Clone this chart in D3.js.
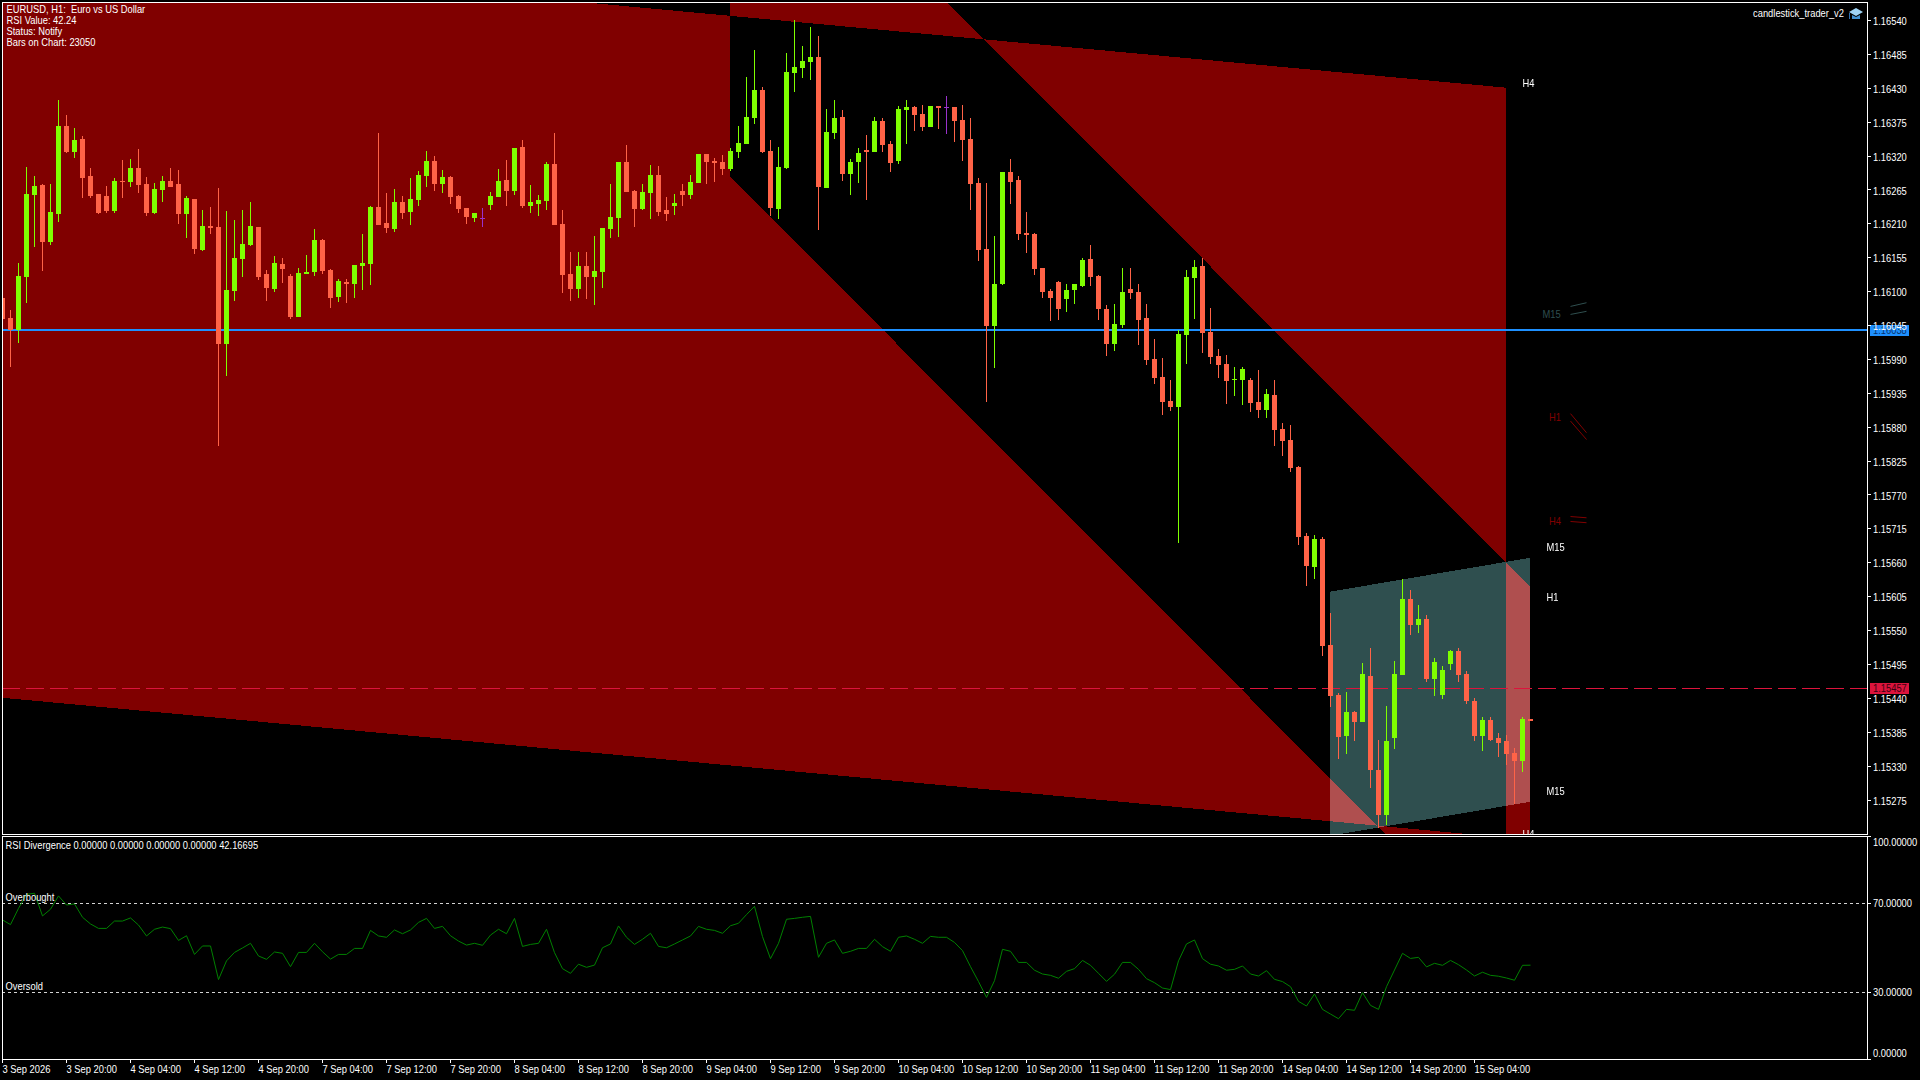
<!DOCTYPE html>
<html>
<head>
<meta charset="utf-8">
<title>EURUSD H1</title>
<script src="https://cdnjs.cloudflare.com/ajax/libs/d3/7.8.5/d3.min.js"></script>
<style>
  html, body { margin: 0; padding: 0; background: #000; overflow: hidden; }
  svg { display: block; }
  text { font-family: "Liberation Sans", sans-serif; font-size: 11px; fill: #fff; }
  .axis path, .axis line { stroke: #fff; shape-rendering: crispEdges; }
  .axis text { fill: #fff; font-size: 11px; font-family: "Liberation Sans", sans-serif; }
</style>
</head>
<body>
<svg id="chart" width="1920" height="1080"></svg>
<script>
// candles, 1 hour bars, left to right
const high = [
  1.16097,1.16070,1.16147,1.16302,1.16288,1.16275,1.16275,1.16411,1.16387,1.16366,
  1.16353,1.16301,1.16259,1.16272,1.16285,1.16314,1.16315,1.16332,1.16286,1.16276,
  1.16288,1.16301,1.16298,1.16255,1.16250,1.16233,1.16237,1.16268,1.16231,1.16216,
  1.16233,1.16246,1.16205,1.16135,1.16158,1.16155,1.16129,1.16139,1.16160,1.16202,
  1.16186,1.16137,1.16121,1.16121,1.16143,1.16194,1.16239,1.16357,1.16260,1.16267,
  1.16255,1.16285,1.16296,1.16328,1.16320,1.16298,1.16288,1.16257,1.16236,1.16228,
  1.16236,1.16262,1.16299,1.16314,1.16333,1.16346,1.16273,1.16257,1.16310,1.16357,
  1.16233,1.16164,1.16164,1.16164,1.16190,1.16203,1.16275,1.16310,1.16338,1.16265,
  1.16275,1.16306,1.16304,1.16254,1.16259,1.16275,1.16289,1.16323,1.16323,1.16317,
  1.16322,1.16333,1.16369,1.16448,1.16492,1.16432,1.16346,1.16335,1.16487,1.16541,
  1.16499,1.16529,1.16515,1.16396,1.16411,1.16395,1.16315,1.16333,1.16354,1.16383,
  1.16382,1.16345,1.16401,1.16411,1.16401,1.16403,1.16401,1.16401,1.16418,1.16400,
  1.16403,1.16382,1.16285,1.16276,1.16190,1.16294,1.16315,1.16288,1.16229,1.16195,
  1.16139,1.16104,1.16117,1.16113,1.16113,1.16155,1.16176,1.16127,1.16079,1.16080,
  1.16139,1.16139,1.16113,1.16080,1.16023,1.15993,1.15957,1.16038,1.16135,1.16152,
  1.16155,1.16074,1.16007,1.15997,1.15978,1.15978,1.15960,1.15973,1.15942,1.15957,
  1.15887,1.15884,1.15817,1.15709,1.15705,1.15702,1.15579,1.15449,1.15451,1.15420,
  1.15498,1.15522,1.15373,1.15428,1.15501,1.15634,1.15615,1.15592,1.15576,1.15506,
  1.15493,1.15519,1.15522,1.15485,1.15441,1.15409,1.15410,1.15383,1.15381,1.15360,
  1.15409,1.15407
];
const low = [
  1.16049,1.15978,1.16017,1.16082,1.16173,1.16133,1.16175,1.16213,1.16325,1.16317,
  1.16252,1.16252,1.16226,1.16228,1.16228,1.16252,1.16270,1.16260,1.16223,1.16226,
  1.16246,1.16270,1.16210,1.16187,1.16161,1.16166,1.16194,1.15850,1.15963,1.16085,
  1.16124,1.16174,1.16119,1.16085,1.16100,1.16114,1.16056,1.16059,1.16129,1.16126,
  1.16129,1.16074,1.16083,1.16082,1.16090,1.16103,1.16111,1.16208,1.16195,1.16197,
  1.16218,1.16208,1.16239,1.16270,1.16263,1.16260,1.16242,1.16228,1.16210,1.16213,
  1.16205,1.16233,1.16254,1.16239,1.16257,1.16236,1.16228,1.16223,1.16233,1.16208,
  1.16098,1.16085,1.16090,1.16088,1.16079,1.16106,1.16187,1.16189,1.16262,1.16205,
  1.16233,1.16218,1.16223,1.16215,1.16224,1.16239,1.16250,1.16276,1.16275,1.16278,
  1.16289,1.16296,1.16317,1.16340,1.16372,1.16325,1.16223,1.16218,1.16299,1.16424,
  1.16447,1.16443,1.16200,1.16268,1.16348,1.16280,1.16257,1.16276,1.16249,1.16327,
  1.16327,1.16294,1.16307,1.16340,1.16361,1.16361,1.16367,1.16364,1.16356,1.16343,
  1.16312,1.16233,1.16150,1.15921,1.15976,1.16111,1.16242,1.16184,1.16163,1.16127,
  1.16090,1.16053,1.16054,1.16067,1.16080,1.16108,1.16109,1.16054,1.15996,1.16004,
  1.16041,1.16088,1.16014,1.15981,1.15950,1.15900,1.15907,1.15692,1.15983,1.16056,
  1.16001,1.15983,1.15960,1.15918,1.15931,1.15916,1.15905,1.15895,1.15895,1.15850,
  1.15834,1.15808,1.15689,1.15622,1.15634,1.15508,1.15426,1.15342,1.15350,1.15370,
  1.15402,1.15295,1.15230,1.15235,1.15358,1.15478,1.15543,1.15546,1.15467,1.15444,
  1.15439,1.15486,1.15467,1.15431,1.15371,1.15355,1.15371,1.15345,1.15332,1.15269,
  1.15321,1.15404
];
const open = [
  1.16090,1.16057,1.16038,1.16124,1.16257,1.16273,1.16181,1.16226,1.16369,1.16327,
  1.16348,1.16288,1.16259,1.16255,1.16231,1.16280,1.16278,1.16301,1.16275,1.16228,
  1.16265,1.16280,1.16275,1.16226,1.16250,1.16168,1.16207,1.16205,1.16015,1.16101,
  1.16153,1.16176,1.16205,1.16129,1.16104,1.16145,1.16126,1.16059,1.16129,1.16132,
  1.16184,1.16135,1.16091,1.16116,1.16113,1.16142,1.16145,1.16238,1.16211,1.16202,
  1.16246,1.16229,1.16249,1.16288,1.16312,1.16275,1.16286,1.16255,1.16236,1.16220,
  1.16220,1.16241,1.16254,1.16281,1.16263,1.16335,1.16239,1.16242,1.16247,1.16307,
  1.16210,1.16129,1.16104,1.16142,1.16124,1.16132,1.16202,1.16220,1.16310,1.16263,
  1.16234,1.16260,1.16289,1.16233,1.16239,1.16263,1.16257,1.16276,1.16323,1.16312,
  1.16310,1.16299,1.16327,1.16340,1.16382,1.16427,1.16328,1.16234,1.16301,1.16455,
  1.16463,1.16473,1.16481,1.16268,1.16358,1.16383,1.16291,1.16310,1.16330,1.16327,
  1.16377,1.16340,1.16312,1.16395,1.16400,1.16388,1.16367,1.16401,1.16399,1.16400,
  1.16379,1.16348,1.16276,1.16169,1.16044,1.16113,1.16294,1.16281,1.16195,1.16194,
  1.16139,1.16101,1.16116,1.16088,1.16103,1.16109,1.16153,1.16126,1.16072,1.16015,
  1.16046,1.16104,1.16100,1.16057,1.15991,1.15962,1.15923,1.15913,1.16030,1.16122,
  1.16142,1.16035,1.15996,1.15983,1.15957,1.15957,1.15957,1.15921,1.15908,1.15933,
  1.15877,1.15859,1.15816,1.15704,1.15653,1.15699,1.15527,1.15446,1.15379,1.15417,
  1.15402,1.15477,1.15324,1.15251,1.15375,1.15478,1.15602,1.15559,1.15569,1.15472,
  1.15446,1.15496,1.15517,1.15480,1.15436,1.15379,1.15405,1.15375,1.15370,1.15352,
  1.15339,1.15407
];
const close = [
  1.16056,1.16038,1.16126,1.16259,1.16272,1.16181,1.16229,1.16369,1.16327,1.16346,
  1.16285,1.16255,1.16228,1.16231,1.16280,1.16278,1.16301,1.16273,1.16228,1.16267,
  1.16280,1.16270,1.16226,1.16252,1.16169,1.16207,1.16203,1.16015,1.16103,1.16155,
  1.16177,1.16207,1.16124,1.16106,1.16147,1.16137,1.16059,1.16130,1.16132,1.16184,
  1.16134,1.16090,1.16117,1.16113,1.16143,1.16147,1.16238,1.16208,1.16203,1.16246,
  1.16228,1.16250,1.16289,1.16312,1.16275,1.16286,1.16254,1.16234,1.16221,1.16228,
  1.16220,1.16255,1.16280,1.16263,1.16333,1.16239,1.16246,1.16249,1.16307,1.16208,
  1.16127,1.16104,1.16142,1.16124,1.16134,1.16203,1.16221,1.16310,1.16262,1.16234,
  1.16262,1.16289,1.16229,1.16226,1.16244,1.16257,1.16278,1.16323,1.16310,1.16309,
  1.16299,1.16328,1.16341,1.16383,1.16427,1.16327,1.16236,1.16302,1.16456,1.16465,
  1.16474,1.16481,1.16270,1.16359,1.16382,1.16291,1.16310,1.16325,1.16327,1.16377,
  1.16338,1.16309,1.16396,1.16400,1.16387,1.16367,1.16401,1.16398,1.16399,1.16377,
  1.16346,1.16275,1.16168,1.16044,1.16113,1.16294,1.16278,1.16194,1.16192,1.16137,
  1.16100,1.16090,1.16072,1.16103,1.16113,1.16152,1.16124,1.16072,1.16015,1.16048,
  1.16100,1.16098,1.16054,1.15989,1.15960,1.15921,1.15913,1.16032,1.16124,1.16140,
  1.16033,1.15994,1.15981,1.15955,1.15958,1.15975,1.15919,1.15908,1.15934,1.15876,
  1.15858,1.15814,1.15702,1.15655,1.15699,1.15525,1.15444,1.15378,1.15417,1.15402,
  1.15480,1.15323,1.15251,1.15371,1.15480,1.15602,1.15559,1.15569,1.15472,1.15499,
  1.15486,1.15517,1.15478,1.15435,1.15379,1.15405,1.15373,1.15368,1.15350,1.15339,
  1.15407,1.15404
];
// RSI subwindow, one value per candle
const rsi = [
  62.5,60.4,67.7,74.0,74.5,64.3,67.3,73.3,69.2,69.7,63.7,60.7,58.7,58.7,62.0,62.0,
  63.4,60.2,55.3,58.3,59.3,58.6,53.3,55.4,47.0,50.8,50.8,35.7,44.1,47.9,49.9,52.0,
  46.3,44.8,48.1,47.5,41.5,47.9,47.9,52.0,48.2,44.9,47.0,47.0,49.7,49.7,57.8,55.3,
  54.7,58.0,56.3,58.0,61.4,63.2,58.7,59.6,55.4,53.0,51.2,52.0,51.1,55.7,58.3,56.3,
  63.2,50.6,51.5,52.0,58.3,47.8,40.6,38.5,42.6,41.2,42.2,50.0,51.7,59.8,54.7,51.5,
  53.8,56.5,50.6,50.0,51.7,53.5,55.3,59.6,58.3,57.8,56.5,59.9,61.0,64.9,68.6,55.0,
  45.1,52.0,62.8,63.2,63.7,64.1,45.7,52.0,53.5,47.5,48.4,49.7,49.7,53.8,50.5,48.4,
  54.7,55.3,53.8,52.0,55.1,54.7,54.7,52.4,48.7,41.5,34.8,27.7,35.2,49.3,48.4,43.4,
  43.4,39.9,38.2,37.6,36.3,39.4,40.6,44.3,42.1,38.5,34.9,38.1,43.4,43.4,40.3,36.1,
  34.3,31.9,31.2,44.1,51.7,53.5,45.1,42.6,41.8,39.9,40.3,41.8,38.2,37.3,39.7,35.8,
  34.8,32.5,25.9,23.8,29.2,22.3,20.2,18.1,22.3,21.9,29.8,24.1,22.3,32.5,40.0,47.5,
  45.2,45.7,41.4,43.0,42.1,44.3,42.4,40.0,37.3,39.0,37.6,37.2,36.4,35.4,42.1,42.17
];

// price channels: [first bar, last bar] and the price of each edge at those bars
const channelH4Bars = [0, 188];
const channelH4Upper = [1.16657, 1.16431];
const channelH4Lower = [1.15441, 1.15214];
const channelH1Bars = [91, 191];
const channelH1Upper = [1.16923, 1.15621];
const channelH1Lower = [1.16287, 1.14985];
const channelM15Bars = [166, 191];
const channelM15Upper = [1.15613, 1.15668];
const channelM15Lower = [1.15217, 1.15272];

const channelLabels = [
  ['H4', 190, 1.16439], ['H4', 190, 1.15219],
  ['H1', 193, 1.15605],
  ['M15', 193, 1.15686], ['M15', 193, 1.15290],
];
const legendLabels = [
  ['M15', 192.5, 1.16064, '#2f4f4f'],
  ['H1', 193.3, 1.15896, '#800000'],
  ['H4', 193.3, 1.15727, '#800000'],
];
// little slope marks next to the faded labels: bars, then start and end price
const legendBars = [196, 198];
const legendMarks = [
  [1.16076, 1.16082, '#2f4f4f'], [1.16063, 1.16068, '#2f4f4f'],
  [1.15902, 1.15871, '#800000'], [1.15890, 1.15860, '#800000'],
  [1.15735, 1.15733, '#800000'], [1.15727, 1.15725, '#800000'],
];

const priceTicks = [
  1.16540,1.16485,1.16430,1.16375,1.16320,1.16265,1.16210,1.16155,1.16100,1.16045,1.15990,1.15935,
  1.15880,1.15825,1.15770,1.15715,1.15660,1.15605,1.15550,1.15495,1.15440,1.15385,1.15330,1.15275
];
const rsiTicks = [100, 70, 30, 0];
const timeTickBars = [0,8,16,24,32,40,48,56,64,72,80,88,96,104,112,120,128,136,144,152,160,168,176,184];
const timeTickLabels = [
  '3 Sep 2026','3 Sep 20:00','4 Sep 04:00','4 Sep 12:00','4 Sep 20:00','7 Sep 04:00','7 Sep 12:00','7 Sep 20:00',
  '8 Sep 04:00','8 Sep 12:00','8 Sep 20:00','9 Sep 04:00','9 Sep 12:00','9 Sep 20:00','10 Sep 04:00','10 Sep 12:00',
  '10 Sep 20:00','11 Sep 04:00','11 Sep 12:00','11 Sep 20:00','14 Sep 04:00','14 Sep 12:00','14 Sep 20:00','15 Sep 04:00'
];
const infoLines = ['EURUSD, H1:  Euro vs US Dollar', 'RSI Value: 42.24', 'Status: Notify', 'Bars on Chart: 23050'];
const askPrice = 1.16038;
const bidPrice = 1.15457;

const svg = d3.select('#chart');
const mainTop = 2, mainBottom = 834, subTop = 836, subBottom = 1059, left = 2, right = 1867;

const x = d3.scaleLinear().domain([0, 191]).range([2.5, 1530.5]);
const y = d3.scaleLinear().domain([1.16540, 1.15275]).range([20.5, 800]);
const yRsi = d3.scaleLinear().domain([0, 100]).range([subBottom, 836.5]);

svg.append('rect').attr('width', 1920).attr('height', 1080).attr('fill', '#000');

const defs = svg.append('defs');
defs.append('clipPath').attr('id', 'mainClip').append('rect')
  .attr('x', left).attr('y', mainTop).attr('width', right - left).attr('height', mainBottom - mainTop);
defs.append('clipPath').attr('id', 'subClip').append('rect')
  .attr('x', left).attr('y', subTop).attr('width', right - left).attr('height', subBottom - subTop);

const main = svg.append('g').attr('clip-path', 'url(#mainClip)').style('isolation', 'isolate');

// channels are xor filled: where H4 and H1 cross the fill drops out
function channelPath(bars, upper, lower) {
  const area = d3.area().x(d => x(d.bar) - 0.6).y0(d => y(d.up)).y1(d => y(d.low));
  return area(bars.map((bar, i) => ({ bar, up: upper[i], low: lower[i] })));
}
main.append('path')
  .attr('d', channelPath(channelH4Bars, channelH4Upper, channelH4Lower) + channelPath(channelH1Bars, channelH1Upper, channelH1Lower))
  .attr('fill', '#800000').attr('fill-rule', 'evenodd').attr('shape-rendering', 'crispEdges');
main.append('path')
  .attr('d', channelPath(channelM15Bars, channelM15Upper, channelM15Lower))
  .attr('fill', '#2f4f4f').attr('shape-rendering', 'crispEdges')
  .style('mix-blend-mode', 'plus-lighter');

main.append('line').attr('x1', left).attr('x2', right).attr('y1', y(askPrice)).attr('y2', y(askPrice))
  .attr('stroke', '#1e90ff').attr('stroke-width', 2).attr('shape-rendering', 'crispEdges');
main.append('line').attr('x1', left).attr('x2', right)
  .attr('y1', Math.round(y(bidPrice)) + 0.5).attr('y2', Math.round(y(bidPrice)) + 0.5)
  .attr('stroke', '#dc143c').attr('stroke-width', 1).attr('stroke-dasharray', '18 6').attr('shape-rendering', 'crispEdges');

function candleColor(i) {
  if (close[i] > open[i]) return '#7fff00';
  if (close[i] < open[i]) return '#ff6347';
  return '#9932cc';
}
const candles = main.append('g').selectAll('g').data(d3.range(open.length)).enter().append('g')
  .attr('shape-rendering', 'crispEdges');
candles.append('rect')
  .attr('x', i => x(i) - 0.5).attr('width', 1)
  .attr('y', i => y(high[i])).attr('height', i => y(low[i]) - y(high[i]))
  .attr('fill', candleColor);
candles.append('rect')
  .attr('x', i => x(i) - 2.5).attr('width', 5)
  .attr('y', i => y(Math.max(open[i], close[i])))
  .attr('height', i => Math.max(1, y(Math.min(open[i], close[i])) - y(Math.max(open[i], close[i]))))
  .attr('fill', candleColor);

main.selectAll('text.chan').data(channelLabels).enter().append('text')
  .attr('class', 'chan').attr('x', d => x(d[1])).attr('y', d => y(d[2])).attr('dy', '.35em')
  .text(d => d[0]);

svg.selectAll('text.leg').data(legendLabels).enter().append('text')
  .attr('class', 'leg').attr('x', d => x(d[1])).attr('y', d => y(d[2])).attr('dy', '.35em')
  .style('fill', d => d[3]).text(d => d[0]);
svg.selectAll('line.mark').data(legendMarks).enter().append('line')
  .attr('class', 'mark')
  .attr('x1', x(legendBars[0])).attr('x2', x(legendBars[1]))
  .attr('y1', d => y(d[0])).attr('y2', d => y(d[1]))
  .attr('stroke', d => d[2]).attr('stroke-width', 1);

// info block, top left
svg.selectAll('text.info').data(infoLines).enter().append('text')
  .attr('class', 'info').attr('x', 6.5).attr('y', (d, i) => 9.5 + i * 10.8).attr('dy', '.35em')
  .style('white-space', 'pre').text(d => d);

// expert name and cap, top right
svg.append('text').attr('x', 1844).attr('y', 13.5).attr('dy', '.35em').attr('text-anchor', 'end').text('candlestick_trader_v2');
const cap = svg.append('g').attr('transform', 'translate(1849,8)');
cap.append('path').attr('d', 'M0 4 L7 0 L14 4 L7 8 Z').attr('fill', '#9fd4f5');
cap.append('path').attr('d', 'M3 7 L7 9 L11 7 L11 11 L3 11 Z').attr('fill', '#3f8fd0');
cap.append('rect').attr('x', 0).attr('y', 5).attr('width', 1).attr('height', 6).attr('fill', '#2f6fb0');

// RSI subwindow
const sub = svg.append('g').attr('clip-path', 'url(#subClip)');
[70, 30].forEach(level => {
  sub.append('line').attr('x1', left).attr('x2', right).attr('y1', yRsi(level)).attr('y2', yRsi(level))
    .attr('stroke', '#d3d3d3').attr('stroke-width', 1).attr('stroke-dasharray', '3 3').attr('shape-rendering', 'crispEdges');
});
const rsiLine = d3.line().x((d, i) => x(i)).y(d => yRsi(d));
sub.append('path').attr('d', rsiLine(rsi)).attr('fill', 'none').attr('stroke', '#008000').attr('stroke-width', 1);
sub.append('text').attr('x', 5.5).attr('y', 845).attr('dy', '.35em').text('RSI Divergence 0.00000 0.00000 0.00000 0.00000 42.16695');
sub.append('text').attr('x', 5.5).attr('y', 897).attr('dy', '.35em').text('Overbought');
sub.append('text').attr('x', 5.5).attr('y', 986).attr('dy', '.35em').text('Oversold');

// price labels behind the axis text
[[askPrice, '#1e90ff', '#08306b'], [bidPrice, '#dc143c', '#3a0010']].forEach(([price, bg, fg]) => {
  svg.append('rect').attr('x', 1870).attr('y', Math.round(y(price)) - 5).attr('width', 39).attr('height', 11)
    .attr('fill', bg).attr('shape-rendering', 'crispEdges');
  svg.append('text').attr('x', 1873).attr('y', y(price) + 0.5).attr('dy', '.35em').style('fill', fg).text(price.toFixed(5));
});

// axes
svg.append('g').attr('class', 'axis').attr('transform', `translate(${right},0)`)
  .call(d3.axisRight(y).tickValues(priceTicks).tickSize(4).tickPadding(2).tickFormat(d3.format('.5f')).offset(0))
  .call(g => g.select('.domain').remove())
  .selectAll('.tick text').attr('dy', '0.42em');

const rsiAxis = svg.append('g').attr('class', 'axis').attr('transform', `translate(${right},0)`)
  .call(d3.axisRight(yRsi).tickValues(rsiTicks).tickSize(4).tickPadding(2).tickFormat(d3.format('.5f')).offset(0))
  .call(g => g.select('.domain').remove());
// end labels are pushed inside the pane
rsiAxis.selectAll('.tick text').attr('dy', d => d === 100 ? '0.85em' : d === 0 ? '-0.15em' : '0.36em');

svg.append('g').attr('class', 'axis').attr('transform', `translate(0,${subBottom})`)
  .call(d3.axisBottom(x).tickValues(timeTickBars).tickSize(4).tickPadding(2).offset(0)
    .tickFormat(d => timeTickLabels[timeTickBars.indexOf(d)]))
  .call(g => g.select('.domain').remove())
  .selectAll('text').attr('text-anchor', 'start');

// pane frames
const frames = svg.append('g').attr('fill', 'none').attr('stroke', '#fff').attr('shape-rendering', 'crispEdges');
frames.append('rect').attr('x', left + 0.5).attr('y', mainTop + 0.5).attr('width', right - left).attr('height', mainBottom - mainTop);
frames.append('rect').attr('x', left + 0.5).attr('y', subTop + 0.5).attr('width', right - left).attr('height', subBottom - subTop);

// the terminal font is narrower than anything installed, so squeeze the glyphs
svg.selectAll('text').each(function () {
  this.setAttribute('textLength', this.getComputedTextLength() * 0.85);
  this.setAttribute('lengthAdjust', 'spacingAndGlyphs');
});
</script>
</body>
</html>
